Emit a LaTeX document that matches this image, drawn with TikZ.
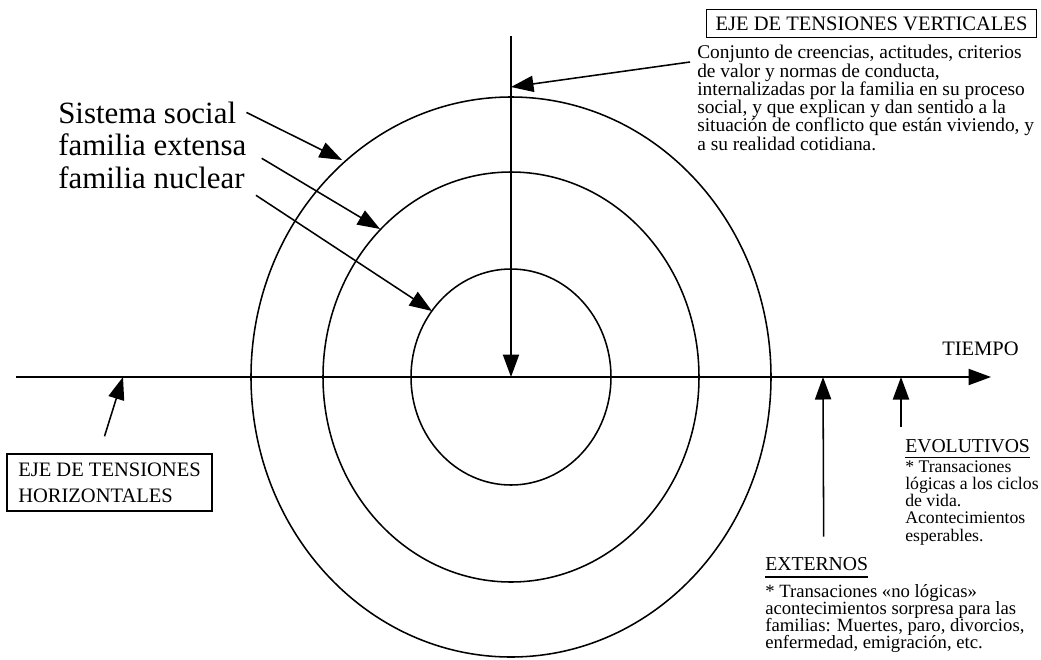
\documentclass[tikz,border=0pt]{standalone}
\usepackage{fontspec}
\setmainfont{Liberation Serif}
\usetikzlibrary{arrows.meta,calc}
\begin{document}
\begin{tikzpicture}[x=0.025cm, y=-0.025cm]
    \tikzstyle{ring} = [line width=1.1pt]
    \tikzstyle{pointer} = [line width=1.1pt, -{Triangle[length=16pt, width=11.5pt]}]
    \tikzstyle{tag} = [draw, line width=0.9pt, font=\fontsize{14.6}{18.4}\selectfont, inner xsep=6.7pt, inner ysep=4.8pt]
    \tikzstyle{big} = [font=\fontsize{22}{23}\selectfont, inner sep=0pt, anchor=base west]
    \tikzstyle{head} = [font=\fontsize{14}{14}\selectfont, inner sep=0pt, anchor=base west]
    \tikzstyle{note} = [font=\fontsize{13.8}{13}\selectfont, align=left, inner sep=0pt, anchor=north west]
    \tikzstyle{small} = [font=\fontsize{12.6}{12.3}\selectfont, align=left, inner sep=0pt, anchor=north west]
    \useasboundingbox (0,0) rectangle (1041,659);

    % the three systems
    \coordinate (o) at (511,377);
    \draw[ring] (o) ellipse [x radius=260, y radius=280];
    \draw[ring] (o) ellipse [x radius=188, y radius=205];
    \draw[ring] (o) ellipse [x radius=100, y radius=108];

    % time axis
    \coordinate (tstart) at (16,377);
    \coordinate (tend) at (991,377);
    \draw[pointer] (tstart) -- (tend);
    \node[head, font=\fontsize{14.6}{14.6}\selectfont] (tiempo) at (942,355) {TIEMPO};

    % vertical tensions
    \coordinate (vtop) at (511,36);
    \draw[pointer] (vtop) -- (o);
    \node[tag] (vbox) at (871.5,23.5) {EJE DE TENSIONES VERTICALES};
    \node[note] (vdesc) at (697,45) {Conjunto de creencias, actitudes, criterios\\de valor y normas de conducta,\\internalizadas por la familia en su proceso\\social, y que explican y dan sentido a la\\situación de conflicto que están viviendo, y\\a su realidad cotidiana.};
    \coordinate (vhit) at (511,87);
    \draw[pointer] ($(vdesc.north west)+(-7,17)$) -- (vhit);

    % system labels
    \node[big] (social) at (58,123) {Sistema social};
    \node[big] (extensa) at (58,155) {familia extensa};
    \node[big] (nuclear) at (58,188) {familia nuclear};
    \coordinate (outerhit) at (342,160);
    \coordinate (middlehit) at (380,229);
    \coordinate (innerhit) at (432,311);
    \draw[pointer] ($(social.east)+(10,0)$) -- (outerhit);
    \draw[pointer] ($(extensa.east)+(15,14)$) -- (middlehit);
    \draw[pointer] ($(nuclear.east)+(11,18)$) -- (innerhit);

    % horizontal tensions
    \node[tag, align=left, inner xsep=8pt, inner ysep=6.2pt] (hbox) at (109.5,482.5) {EJE DE TENSIONES\\HORIZONTALES};
    \coordinate (hhit) at (123,377);
    \draw[pointer] ($(hbox.north)+(-5,-17)$) -- (hhit);

    % external events
    \node[head] (ext) at (765,570) {EXTERNOS};
    \draw[line width=0.8pt] ([yshift=-5pt]ext.base west) -- ([yshift=-5pt]ext.base east);
    \node[small, font=\fontsize{13.3}{12.2}\selectfont] (extdesc) at (765,584) {* Transaciones «no lógicas»\\acontecimientos sorpresa para las\\familias: Muertes, paro, divorcios,\\enfermedad, emigración, etc.};
    \coordinate (exthit) at (823,377);
    \draw[pointer] ($(ext.north)+(7,-20)$) -- (exthit);

    % evolutive events
    \node[head] (evo) at (905,452) {EVOLUTIVOS};
    \draw[line width=0.8pt] ([yshift=-4pt]evo.base west) -- ([yshift=-4pt]evo.base east);
    \node[small] (evodesc) at (905,460) {* Transaciones\\lógicas a los ciclos\\de vida.\\Acontecimientos\\esperables.};
    \coordinate (evohit) at (901,377);
    \draw[pointer] ($(evo.north west)+(-4,-12)$) -- (evohit);
\end{tikzpicture}
\end{document}
